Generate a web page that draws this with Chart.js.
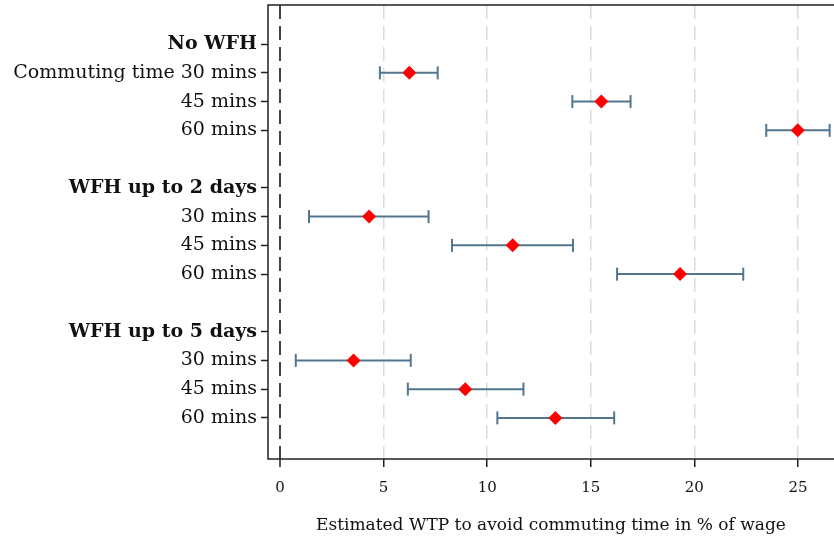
<!DOCTYPE html>
<html>
<head>
<meta charset="utf-8">
<script src="https://cdn.jsdelivr.net/npm/chart.js@4.4.1/dist/chart.umd.min.js"></script>
<style>
  html, body { margin: 0; padding: 0; background: #fff; }
  #wrap { width: 834px; height: 540px; }
</style>
</head>
<body>
<div id="wrap"><canvas id="wtpChart"></canvas></div>
<script>
// rows of the plot (top to bottom); gaps at 4 and 9 separate the groups
const rowLabels = ['No WFH', 'Commuting time 30 mins', '45 mins', '60 mins',
                   'WFH up to 2 days', '30 mins', '45 mins', '60 mins',
                   'WFH up to 5 days', '30 mins', '45 mins', '60 mins'];
const rowPos = [0, 1, 2, 3, 5, 6, 7, 8, 10, 11, 12, 13];
const headerRows = [0, 5, 10];

// estimates (red diamonds) and confidence intervals
const estRows = [1, 2, 3, 6, 7, 8, 11, 12, 13];
const estimate = [6.24, 15.51, 24.99, 4.30, 11.23, 19.31, 3.55, 8.94, 13.29];
const lower    = [4.82, 14.11, 23.47, 1.40, 8.30, 16.27, 0.76, 6.17, 10.49];
const upper    = [7.61, 16.92, 26.53, 7.17, 14.14, 22.36, 6.31, 11.75, 16.13];

const xTicks = [0, 5, 10, 15, 20, 25];
const xTitle = 'Estimated WTP to avoid commuting time in % of wage';

const FONT = "'DejaVu Serif', serif";
const barColor = '#52768f';

document.addEventListener('DOMContentLoaded', function() {
    const datasets = [];

    // error bars, one little line per interval, caps drawn as rotated 'line' points
    estRows.forEach((r, i) => {
        datasets.push({
            type: 'scatter',
            order: 1,
            data: [{ x: lower[i], y: r }, { x: upper[i], y: r }],
            showLine: true,
            borderColor: barColor,
            borderWidth: 2,
            pointStyle: 'line',
            rotation: 90,
            pointRadius: 6.5,
            pointBorderWidth: 2,
            pointBorderColor: barColor,
            pointHoverRadius: 6.5
        });
    });

    // point estimates (order 0 -> drawn on top of the bars)
    datasets.push({
        type: 'scatter',
        order: 0,
        data: estimate.map((v, i) => ({ x: v, y: estRows[i] })),
        pointStyle: 'rectRot',
        pointRadius: 7,
        pointHoverRadius: 7,
        backgroundColor: '#ff0000',
        borderColor: '#ff0000',
        borderWidth: 0
    });

    // plot frame (left, top, bottom – right edge is cut off)
    const framePlugin = {
        id: 'frame',
        afterDraw(chart) {
            const a = chart.chartArea, c = chart.ctx;
            c.save();
            c.strokeStyle = '#222';
            c.lineWidth = 1.5;
            c.beginPath();
            c.moveTo(a.right + 2, a.top);
            c.lineTo(a.left, a.top);
            c.lineTo(a.left, a.bottom);
            c.lineTo(a.right + 2, a.bottom);
            c.stroke();
            c.restore();
        }
    };

    new Chart(document.getElementById('wtpChart'), {
        type: 'scatter',
        data: { datasets: datasets },
        plugins: [framePlugin],
        options: {
            responsive: true,
            maintainAspectRatio: false,
            animation: false,
            layout: { autoPadding: false, padding: { top: 5, right: 0, left: 0, bottom: 0 } },
            plugins: { legend: { display: false }, tooltip: { enabled: false } },
            scales: {
                x: {
                    type: 'linear',
                    min: -0.58,
                    max: 26.74,
                    afterBuildTicks: (axis) => { axis.ticks = xTicks.map(v => ({ value: v })); },
                    afterFit: (axis) => {
                        axis.height = 81;
                        axis.paddingLeft = 0;
                        axis.paddingRight = 0;
                    },
                    border: { display: false, dash: [14, 7] },
                    grid: {
                        color: (ctx) => (ctx.tick && ctx.tick.value === 0 ? '#444' : '#dcdcdc'),
                        lineWidth: (ctx) => (ctx.tick && ctx.tick.value === 0 ? 2 : 1.5),
                        tickColor: '#222',
                        tickLength: 8,
                        tickWidth: 1.5,
                        tickBorderDash: []
                    },
                    ticks: {
                        color: '#111',
                        font: { family: FONT, size: 15 },
                        padding: 12,
                        maxRotation: 0,
                        callback: (v) => String(v)
                    },
                    title: {
                        display: true,
                        text: xTitle,
                        color: '#111',
                        font: { family: FONT, size: 17 },
                        padding: { top: 6 }
                    }
                },
                y: {
                    type: 'linear',
                    reverse: true,
                    min: -1.36,
                    max: 14.43,
                    afterBuildTicks: (axis) => { axis.ticks = rowPos.map(v => ({ value: v })); },
                    afterFit: (axis) => {
                        axis.width = 268;
                        axis.paddingTop = 0;
                        axis.paddingBottom = 0;
                    },
                    border: { display: false },
                    grid: {
                        drawOnChartArea: false,
                        tickColor: '#222',
                        tickLength: 7,
                        tickWidth: 1.5
                    },
                    ticks: {
                        color: '#111',
                        padding: 4,
                        autoSkip: false,
                        font: (ctx) => ({
                            family: FONT,
                            size: 19,
                            weight: headerRows.includes(ctx.tick ? ctx.tick.value : -1) ? 'bold' : 'normal'
                        }),
                        callback: (v) => {
                            const k = rowPos.indexOf(v);
                            return k >= 0 ? rowLabels[k] : '';
                        }
                    }
                }
            }
        }
    });
});
</script>
</body>
</html>
